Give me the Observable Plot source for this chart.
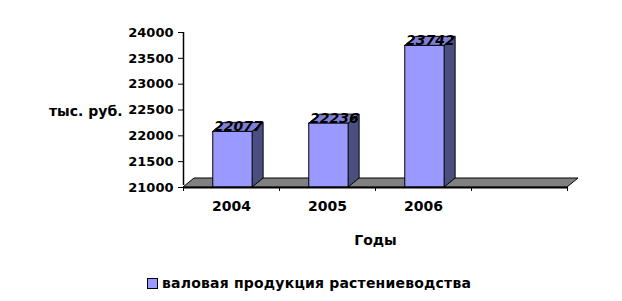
<!DOCTYPE html>
<html>
<head>
<meta charset="utf-8">
<script src="https://cdn.jsdelivr.net/npm/d3@7"></script>
<script src="https://cdn.jsdelivr.net/npm/@observablehq/plot@0.6"></script>
<style>
  html, body { margin: 0; padding: 0; background: #fff; }
  body { width: 622px; height: 301px; overflow: hidden; font-family: "DejaVu Sans", sans-serif; }
  #legend { display: flex; align-items: center; margin-left: 147px; margin-top: 13px; font-size: 14px; font-weight: bold; color: #000; letter-spacing: 0.2px; }
  #legend .sw { width: 9px; height: 9px; background: #9999ff; border: 1px solid #000; margin-right: 4px; }
</style>
</head>
<body>
<div id="chart"></div>
<script>
// ---- data ----
const years = ["2004", "2005", "2006"];
const values = [22077, 22236, 23742];
const yTicks = [21000, 21500, 22000, 22500, 23000, 23500, 24000];
const seriesName = "валовая продукция растениеводства";
const yLabel = "тыс. руб.";
const xLabel = "Годы";

// ---- style / geometry ----
const W = 622, H = 262;
const yMin = 21000, yMax = 24000;
const nSlots = 4;                  // Excel category axis has one empty slot
const mL = 183, mR = 55, mT = 32, mB = H - 187;
const plotW = W - mL - mR, plotH = H - mT - mB;
const depthPx = [11, 9];
const dxU = depthPx[0] * nSlots / plotW;
const dyU = depthPx[1] * (yMax - yMin) / plotH;
const barStart = 0.31, barEnd = 0.72;
const frontColor = "#9999ff", topColor = "#7f7fd6", sideColor = "#4b4f80", floorColor = "#808080";

const bars = years.map((y, i) => ({year: y, i, v: values[i]}));

const floorRows = [
  {y: yMin, x1: 0, x2: nSlots},
  {y: yMin + dyU, x1: dxU, x2: nSlots + dxU}
];
const sideRows = bars.flatMap(d => [
  {k: d.i, x: d.i + barEnd, y1: yMin, y2: d.v},
  {k: d.i, x: d.i + barEnd + dxU, y1: yMin + dyU, y2: d.v + dyU}
]);
const topRows = bars.flatMap(d => [
  {k: d.i, y: d.v, x1: d.i + barStart, x2: d.i + barEnd},
  {k: d.i, y: d.v + dyU, x1: d.i + barStart + dxU, x2: d.i + barEnd + dxU}
]);

const font = {fontFamily: "DejaVu Sans", fontWeight: "bold", fill: "#000"};

const chart = Plot.plot({
  width: W, height: H,
  marginLeft: mL, marginRight: mR, marginTop: mT, marginBottom: mB,
  style: {fontFamily: "DejaVu Sans", fontSize: "13px", fontWeight: "bold", color: "#000", background: "#fff", overflow: "visible"},
  x: {type: "linear", domain: [0, nSlots]},
  y: {domain: [yMin, yMax]},
  marks: [
    // floor
    Plot.areaX(floorRows, {y: "y", x1: "x1", x2: "x2", fill: floorColor, stroke: "#000", strokeWidth: 1}),
    // bar sides
    Plot.areaY(sideRows, {x: "x", y1: "y1", y2: "y2", z: "k", fill: sideColor, stroke: "#000", strokeWidth: 1}),
    // bar tops
    Plot.areaX(topRows, {y: "y", x1: "x1", x2: "x2", z: "k", fill: topColor, stroke: "#000", strokeWidth: 1}),
    // bar fronts
    Plot.rect(bars, {x1: d => d.i + barStart, x2: d => d.i + barEnd, y1: yMin, y2: "v", fill: frontColor, stroke: "#000", strokeWidth: 1}),
    // value labels
    Plot.text(bars, {x: d => d.i + (barStart + barEnd) / 2 + dxU / 2, y: d => d.v + dyU / 2, text: d => String(d.v),
      ...font, fontSize: 14, fontStyle: "italic", dy: -1}),
    // axes lines
    Plot.ruleX([0], {y1: yMin, y2: yMax, stroke: "#000", strokeWidth: 1.5, insetTop: -2}),
    Plot.ruleY([yMin], {x1: 0, x2: nSlots, stroke: "#000", strokeWidth: 2}),
    // y axis
    Plot.axisY({ticks: yTicks, tickSize: 5, tickPadding: 5, tickFormat: d => String(d), label: null, fontSize: 13, fontWeight: "bold"}),
    // x axis tick marks at category boundaries
    Plot.axisX({ticks: d3.range(0, nSlots + 1), tickSize: 4, tickFormat: () => "", label: null}),
    // x axis category labels
    Plot.axisX({ticks: years.map((y, i) => i + 0.5), tickSize: 0, tickPadding: 14, tickFormat: (t) => years[Math.floor(t)], label: null, fontSize: 14, fontWeight: "bold"}),
    // axis titles
    Plot.text([yLabel], {frameAnchor: "left", dx: -61, dy: 2, textAnchor: "end", ...font, fontSize: 14}),
    Plot.text([xLabel], {frameAnchor: "bottom", dy: 57, textAnchor: "middle", ...font, fontSize: 14})
  ]
});
document.getElementById("chart").appendChild(chart);

const legend = document.createElement("div");
legend.id = "legend";
legend.innerHTML = `<span class="sw"></span><span>${seriesName}</span>`;
document.body.appendChild(legend);
</script>
</body>
</html>
